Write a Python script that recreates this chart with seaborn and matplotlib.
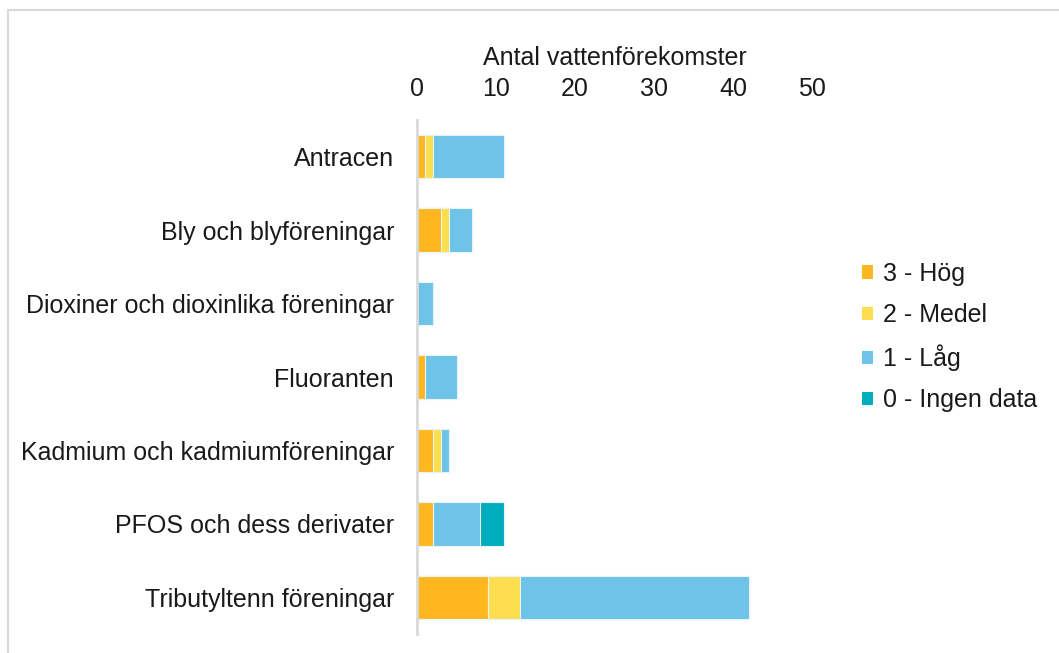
import matplotlib
matplotlib.use("Agg")
import matplotlib.pyplot as plt
from matplotlib.patches import Patch, Rectangle
import seaborn as sns
import pandas as pd

# Data
substances = ["Antracen", "Bly och blyföreningar", "Dioxiner och dioxinlika föreningar",
              "Fluoranten", "Kadmium och kadmiumföreningar", "PFOS och dess derivater",
              "Tributyltenn föreningar"]
hog = [1, 3, 0, 1, 2, 2, 9]
medel = [1, 1, 0, 0, 1, 0, 4]
lag = [9, 3, 2, 4, 1, 6, 29]
ingen = [0, 0, 0, 0, 0, 3, 0]

labels = ["3 - Hög", "2 - Medel", "1 - Låg", "0 - Ingen data"]
colors = ["#FFB71F", "#FDDE4F", "#6DC3E8", "#00ADBD"]

df = pd.DataFrame({"substance": substances, "hog": hog, "medel": medel,
                   "lag": lag, "ingen": ingen})
df["c1"] = df["hog"]
df["c2"] = df["c1"] + df["medel"]
df["c3"] = df["c2"] + df["lag"]
df["c4"] = df["c3"] + df["ingen"]

sns.set_theme(style="white")
plt.rcParams['font.family'] = ['Liberation Sans', 'DejaVu Sans']
fs = 18
txt = "#1A1A1A"

fig = plt.figure(figsize=(10.59, 6.53), dpi=100)
ax = fig.add_axes([417 / 1059, 1 - 634 / 653, (812 - 417) / 1059, (634 - 120) / 653])

# Stacked bars drawn as overlapping cumulative totals (largest first)
for col, color in zip(["c4", "c3", "c2", "c1"], colors[::-1]):
    sns.barplot(data=df, x=col, y="substance", color=color, saturation=1, width=0.59,
                edgecolor="#E8F4FA", linewidth=0.8, ax=ax, orient="h")

ax.set_xlim(0, 50)
ax.set_xticks(range(0, 51, 10))
ax.xaxis.tick_top()
ax.xaxis.set_label_position("top")
ax.set_xlabel("Antal vattenförekomster", fontsize=fs, color=txt, labelpad=9)
ax.set_ylabel("")
ax.tick_params(axis="x", length=0, labelsize=fs, labelcolor=txt, pad=13.5)
ax.tick_params(axis="y", length=0, labelsize=fs, labelcolor=txt, pad=16.5)

for s in ["top", "right", "bottom"]:
    ax.spines[s].set_visible(False)
ax.spines["left"].set_color("#D9D9D9")
ax.spines["left"].set_linewidth(2)

handles = [Patch(facecolor=c, edgecolor="none") for c in colors]
fig.legend(handles, labels, loc="upper left", bbox_to_anchor=(862 / 1059, 1 - 262 / 653),
           frameon=False, fontsize=fs, handlelength=0.45, handleheight=0.45,
           handletextpad=0.4, labelspacing=0.69, borderpad=0, borderaxespad=0,
           labelcolor=txt)

# Light frame of the chart area
fig.patches.append(Rectangle((8 / 1059, -0.1), 1.1, 1 - 10 / 653 + 0.1,
                             transform=fig.transFigure, fill=False,
                             edgecolor="#D9D9D9", linewidth=1.5))

fig.savefig("out.png", dpi=100)
